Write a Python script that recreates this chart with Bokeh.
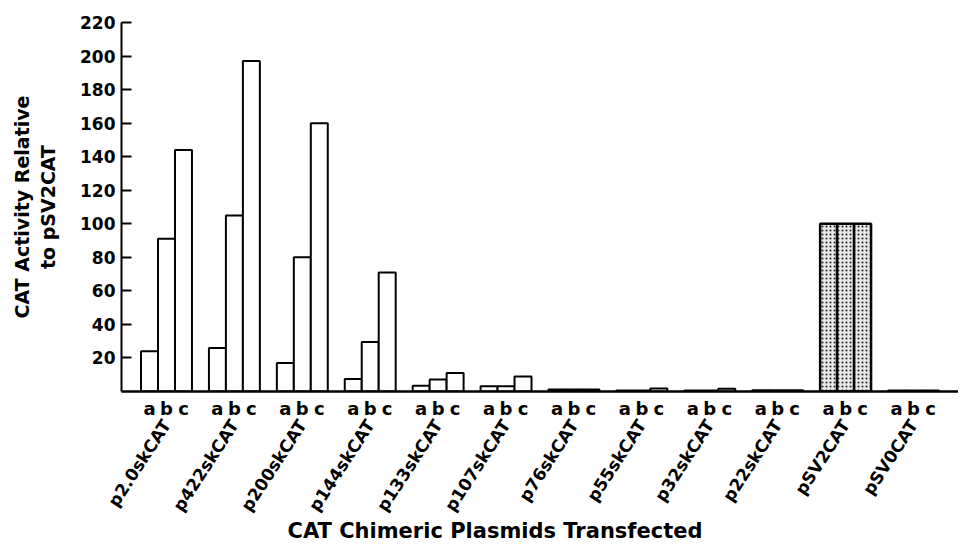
import math
from bokeh.plotting import figure
from bokeh.models import FactorRange, Range1d, FixedTicker, Title
from bokeh.embed import file_html
from bokeh.resources import INLINE

groups = ["p2.0skCAT", "p422skCAT", "p200skCAT", "p144skCAT", "p133skCAT",
          "p107skCAT", "p76skCAT", "p55skCAT", "p32skCAT", "p22skCAT",
          "pSV2CAT", "pSV0CAT"]
subs = ["a", "b", "c"]
vals_a = [24, 26, 17, 7.5, 3.5, 3.2, 1.2, 0.6, 0.6, 0.8, 100, 0.6]
vals_b = [91, 105, 80, 29.5, 7.2, 3.2, 1.2, 0.6, 0.6, 0.8, 100, 0.6]
vals_c = [144, 197, 160, 71, 11, 9, 1.2, 1.8, 1.6, 0.8, 100, 0.6]
y_ticks = [20, 40, 60, 80, 100, 120, 140, 160, 180, 200, 220]
reference_group = "pSV2CAT"

FONT = "DejaVu Sans"

factors = [(g, s) for g in groups for s in subs]
tops = []
for i, g in enumerate(groups):
    tops += [vals_a[i], vals_b[i], vals_c[i]]

plain_x = [f for f in factors if f[0] != reference_group]
plain_top = [t for f, t in zip(factors, tops) if f[0] != reference_group]
ref_x = [f for f in factors if f[0] == reference_group]
ref_top = [t for f, t in zip(factors, tops) if f[0] == reference_group]

xr = FactorRange(*factors, factor_padding=0.0, group_padding=1.0,
                 range_padding=1.15, range_padding_units="absolute")

p = figure(x_range=xr, y_range=Range1d(0, 220), width=958, height=548,
           output_backend="svg", toolbar_location=None,
           min_border_left=121, min_border_right=0, min_border_top=22,
           min_border_bottom=157)

p.vbar(x=plain_x, top=plain_top, width=1.0, fill_color="white",
       line_color="black", line_width=2)
p.vbar(x=ref_x, top=ref_top, width=1.0, fill_color="#e8e8e8",
       line_color="black", line_width=2.5,
       hatch_pattern="dot", hatch_color="#222222", hatch_scale=4,
       hatch_weight=1.2)

p.outline_line_color = None
p.grid.visible = False
p.background_fill_color = "white"

ya = p.yaxis[0]
ya.ticker = FixedTicker(ticks=y_ticks)
ya.axis_line_width = 2
ya.axis_line_color = "black"
ya.major_tick_in = 10
ya.major_tick_out = 0
ya.major_tick_line_width = 2
ya.minor_tick_line_color = None
ya.major_label_text_font = FONT
ya.major_label_text_font_style = "bold"
ya.major_label_text_font_size = "17px"
ya.major_label_text_color = "black"
ya.major_label_standoff = 6
ya.axis_label = "CAT Activity Relative\nto pSV2CAT"
ya.axis_label_text_font = FONT
ya.axis_label_text_font_style = "bold"
ya.axis_label_text_font_size = "19px"
ya.axis_label_text_color = "black"
ya.axis_label_standoff = 18

xa = p.xaxis[0]
xa.axis_line_width = 2.5
xa.axis_line_color = "black"
xa.major_tick_line_color = None
xa.minor_tick_line_color = None
xa.major_label_text_font = FONT
xa.major_label_text_font_style = "bold"
xa.major_label_text_font_size = "18px"
xa.major_label_text_color = "black"
xa.major_label_standoff = 0
xa.group_text_font = FONT
xa.group_text_font_style = "bold"
xa.group_text_font_size = "17px"
xa.group_text_color = "black"
xa.group_label_orientation = math.radians(57)
xa.separator_line_alpha = 0

title = Title(text="CAT Chimeric Plasmids Transfected", align="left",
              offset=166, text_font=FONT, text_font_style="bold",
              text_font_size="21px", text_color="black", standoff=-14)
p.add_layout(title, "below")

open("out.html", "w").write(file_html(p, INLINE))
